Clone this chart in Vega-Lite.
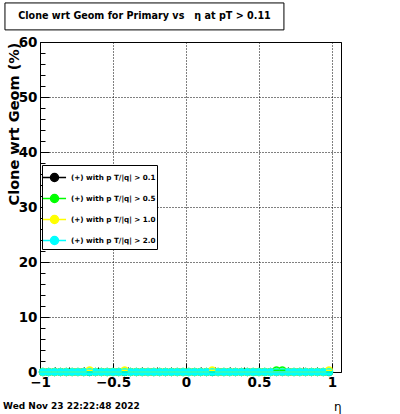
{
  "$schema": "https://vega.github.io/schema/vega-lite/v6.json",
  "width": 301,
  "height": 330,
  "autosize": {"type": "none"},
  "padding": {"left": 40, "top": 42, "right": 59, "bottom": 42},
  "background": "white",
  "config": {"view": {"stroke": "black", "strokeWidth": 1}, "font": "DejaVu Sans"},
  "title": {"text": "Clone wrt Geom for Primary vs \u00a0 η at pT > 0.11", "anchor": "middle", "frame": "group", "dx": -46, "offset": -18, "fontSize": 9.6, "fontWeight": "bold", "font": "DejaVu Sans", "color": "black", "zindex": 2},
  "data": {"values": [
    {"eta": -0.98, "s01": 0, "s05": 0, "s10": 0, "s20": 0},
    {"eta": -0.94, "s01": 0, "s05": 0, "s10": 0, "s20": 0},
    {"eta": -0.90, "s01": 0, "s05": 0, "s10": 0, "s20": 0},
    {"eta": -0.86, "s01": 0, "s05": 0, "s10": 0, "s20": 0},
    {"eta": -0.82, "s01": 0, "s05": 0, "s10": 0, "s20": 0},
    {"eta": -0.78, "s01": 0, "s05": 0, "s10": 0, "s20": 0},
    {"eta": -0.74, "s01": 0, "s05": 0, "s10": 0, "s20": 0},
    {"eta": -0.70, "s01": 0, "s05": 0, "s10": 0, "s20": 0},
    {"eta": -0.66, "s01": 0, "s05": 0, "s10": 0.3, "s20": 0},
    {"eta": -0.62, "s01": 0, "s05": 0, "s10": 0, "s20": 0},
    {"eta": -0.58, "s01": 0, "s05": 0, "s10": 0, "s20": 0},
    {"eta": -0.54, "s01": 0, "s05": 0, "s10": 0, "s20": 0},
    {"eta": -0.50, "s01": 0, "s05": 0, "s10": 0, "s20": 0},
    {"eta": -0.46, "s01": 0, "s05": 0, "s10": 0, "s20": 0},
    {"eta": -0.42, "s01": 0, "s05": 0, "s10": 0.3, "s20": 0},
    {"eta": -0.38, "s01": 0, "s05": 0, "s10": 0, "s20": 0},
    {"eta": -0.34, "s01": 0, "s05": 0, "s10": 0, "s20": 0},
    {"eta": -0.30, "s01": 0, "s05": 0, "s10": 0, "s20": 0},
    {"eta": -0.26, "s01": 0, "s05": 0, "s10": 0, "s20": 0},
    {"eta": -0.22, "s01": 0, "s05": 0, "s10": 0, "s20": 0},
    {"eta": -0.18, "s01": 0, "s05": 0, "s10": 0, "s20": 0},
    {"eta": -0.14, "s01": 0, "s05": 0, "s10": 0, "s20": 0},
    {"eta": -0.10, "s01": 0, "s05": 0, "s10": 0, "s20": 0},
    {"eta": -0.06, "s01": 0, "s05": 0, "s10": 0, "s20": 0},
    {"eta": -0.02, "s01": 0, "s05": 0, "s10": 0, "s20": 0},
    {"eta": 0.02, "s01": 0, "s05": 0, "s10": 0, "s20": 0},
    {"eta": 0.06, "s01": 0, "s05": 0, "s10": 0, "s20": 0},
    {"eta": 0.10, "s01": 0, "s05": 0, "s10": 0, "s20": 0},
    {"eta": 0.14, "s01": 0, "s05": 0, "s10": 0, "s20": 0},
    {"eta": 0.18, "s01": 0, "s05": 0, "s10": 0.3, "s20": 0},
    {"eta": 0.22, "s01": 0, "s05": 0, "s10": 0, "s20": 0},
    {"eta": 0.26, "s01": 0, "s05": 0, "s10": 0, "s20": 0},
    {"eta": 0.30, "s01": 0, "s05": 0, "s10": 0, "s20": 0},
    {"eta": 0.34, "s01": 0, "s05": 0, "s10": 0, "s20": 0},
    {"eta": 0.38, "s01": 0, "s05": 0, "s10": 0, "s20": 0},
    {"eta": 0.42, "s01": 0, "s05": 0, "s10": 0, "s20": 0},
    {"eta": 0.46, "s01": 0, "s05": 0, "s10": 0, "s20": 0},
    {"eta": 0.50, "s01": 0, "s05": 0, "s10": 0, "s20": 0},
    {"eta": 0.54, "s01": 0, "s05": 0, "s10": 0, "s20": 0},
    {"eta": 0.58, "s01": 0, "s05": 0, "s10": 0, "s20": 0},
    {"eta": 0.62, "s01": 0, "s05": 0.3, "s10": 0, "s20": 0},
    {"eta": 0.66, "s01": 0, "s05": 0.3, "s10": 0, "s20": 0},
    {"eta": 0.70, "s01": 0, "s05": 0, "s10": 0, "s20": 0},
    {"eta": 0.74, "s01": 0, "s05": 0, "s10": 0, "s20": 0},
    {"eta": 0.78, "s01": 0, "s05": 0, "s10": 0, "s20": 0},
    {"eta": 0.82, "s01": 0, "s05": 0, "s10": 0, "s20": 0},
    {"eta": 0.86, "s01": 0, "s05": 0, "s10": 0, "s20": 0},
    {"eta": 0.90, "s01": 0, "s05": 0, "s10": 0, "s20": 0},
    {"eta": 0.94, "s01": 0, "s05": 0, "s10": 0, "s20": 0},
    {"eta": 0.98, "s01": 0, "s05": 0, "s10": 0.3, "s20": 0}
  ]},
  "layer": [
    {
      "transform": [{"fold": ["s01", "s05", "s10", "s20"], "as": ["series", "pct"]}],
      "mark": {"type": "point", "filled": true, "size": 58, "opacity": 1, "shape": "circle", "strokeWidth": 0.5},
      "encoding": {
        "x": {
          "field": "eta", "type": "quantitative",
          "scale": {"domain": [-1, 1.062], "nice": false, "zero": false},
          "axis": {
            "values": [-1, -0.9, -0.8, -0.7, -0.6, -0.5, -0.4, -0.3, -0.2, -0.1, 0, 0.1, 0.2, 0.3, 0.4, 0.5, 0.6, 0.7, 0.8, 0.9, 1],
            "tickCount": 40,
            "format": ".1~f",
            "labelExpr": "abs(datum.value*2-round(datum.value*2))<0.001 ? datum.label : ''",
            "tickSize": {"condition": {"test": "abs(datum.value*2-round(datum.value*2))<0.001", "value": -9}, "value": -5},
            "tickColor": "black",
            "grid": true, "gridColor": "black", "gridDash": [1, 2],
            "gridOpacity": {"condition": {"test": "abs(datum.value*2-round(datum.value*2))<0.001", "value": 1}, "value": 0},
            "domain": false,
            "labelFont": "DejaVu Sans", "labelFontSize": 13.5, "labelFontWeight": "bold", "labelColor": "black",
            "labelPadding": 12, "labelOverlap": false, "labelFlush": false, "labelBound": false,
            "title": "η", "titleAnchor": "end", "titleFont": "DejaVu Sans", "titleFontSize": 12, "titleFontWeight": "normal", "titleColor": "black", "titlePadding": 9
          }
        },
        "y": {
          "field": "pct", "type": "quantitative",
          "scale": {"domain": [0, 60], "nice": false, "zero": false},
          "axis": {
            "values": [0, 2, 4, 6, 8, 10, 12, 14, 16, 18, 20, 22, 24, 26, 28, 30, 32, 34, 36, 38, 40, 42, 44, 46, 48, 50, 52, 54, 56, 58, 60],
            "tickCount": 60,
            "labelExpr": "datum.value % 10 === 0 ? datum.label : ''",
            "tickSize": {"condition": {"test": "datum.value % 10 === 0", "value": -9}, "value": -5},
            "tickColor": "black",
            "grid": true, "gridColor": "black", "gridDash": [1, 2],
            "gridOpacity": {"condition": {"test": "datum.value % 10 === 0", "value": 1}, "value": 0},
            "domain": false,
            "labelFont": "DejaVu Sans", "labelFontSize": 13.5, "labelFontWeight": "bold", "labelColor": "black",
            "labelPadding": 12, "labelOverlap": false, "labelFlush": false, "labelBound": false,
            "title": "Clone wrt Geom (%)", "titleAnchor": "end", "titleFont": "DejaVu Sans", "titleFontSize": 14.5, "titleFontWeight": "bold", "titleColor": "black", "titlePadding": -3
          }
        },
        "color": {
          "field": "series", "type": "nominal",
          "scale": {"domain": ["s01", "s05", "s10", "s20"], "range": ["#000000", "#00ff00", "#ffff00", "#00ffff"]},
          "legend": {
            "orient": "none", "legendX": 2, "legendY": 123, "title": null,
            "symbolType": "M-1.1,0L1.1,0M-0.38,0A0.38,0.38 0 1,0 0.38,0A0.38,0.38 0 1,0 -0.38,0Z",
            "symbolSize": 441, "symbolStrokeWidth": 1.5, "symbolOpacity": 1,
            "labelFont": "DejaVu Sans", "labelFontWeight": "bold", "labelFontSize": 7.2, "labelColor": "black",
            "labelExpr": "{'s01': '(+) with p T/|q| > 0.1', 's05': '(+) with p T/|q| > 0.5', 's10': '(+) with p T/|q| > 1.0', 's20': '(+) with p T/|q| > 2.0'}[datum.value]",
            "strokeColor": "black", "fillColor": "white", "padding": 1, "rowPadding": 2, "labelOffset": 5
          }
        },
        "stroke": {
          "field": "series", "type": "nominal",
          "scale": {"domain": ["s01", "s05", "s10", "s20"], "range": ["#000000", "#00ff00", "#ffff00", "#00ffff"]},
          "legend": {
            "orient": "none", "legendX": 2, "legendY": 123, "title": null,
            "symbolType": "M-1.1,0L1.1,0M-0.38,0A0.38,0.38 0 1,0 0.38,0A0.38,0.38 0 1,0 -0.38,0Z",
            "symbolSize": 441, "symbolStrokeWidth": 1.5, "symbolOpacity": 1,
            "labelFont": "DejaVu Sans", "labelFontWeight": "bold", "labelFontSize": 7.2, "labelColor": "black",
            "labelExpr": "{'s01': '(+) with p T/|q| > 0.1', 's05': '(+) with p T/|q| > 0.5', 's10': '(+) with p T/|q| > 1.0', 's20': '(+) with p T/|q| > 2.0'}[datum.value]",
            "strokeColor": "black", "fillColor": "white", "padding": 1, "rowPadding": 2, "labelOffset": 5
          }
        },
        "order": {"field": "series"}
      }
    },
    {
      "transform": [{"fold": ["s01", "s05", "s10", "s20"], "as": ["series", "pct"]}],
      "mark": {"type": "tick", "orient": "horizontal", "size": 6, "thickness": 1.5, "opacity": 1},
      "encoding": {
        "x": {"field": "eta", "type": "quantitative"},
        "y": {"field": "pct", "type": "quantitative"},
        "color": {"field": "series", "type": "nominal"},
        "order": {"field": "series"}
      }
    },
    {
      "data": {"values": [{}]},
      "mark": {"type": "rect", "fill": "white", "stroke": "black", "strokeWidth": 1, "clip": false},
      "encoding": {
        "x": {"datum": -1.24, "type": "quantitative"},
        "x2": {"datum": 0.671},
        "y": {"datum": 62.2, "type": "quantitative"},
        "y2": {"datum": 67.1}
      }
    },
    {
      "data": {"values": [{}]},
      "mark": {"type": "text", "text": "Wed Nov 23 22:22:48 2022", "align": "left", "baseline": "alphabetic", "font": "DejaVu Sans", "fontSize": 9, "fontWeight": "bold", "color": "black", "clip": false},
      "encoding": {
        "x": {"datum": -1.253, "type": "quantitative"},
        "y": {"datum": -6.7, "type": "quantitative"}
      }
    }
  ]
}
